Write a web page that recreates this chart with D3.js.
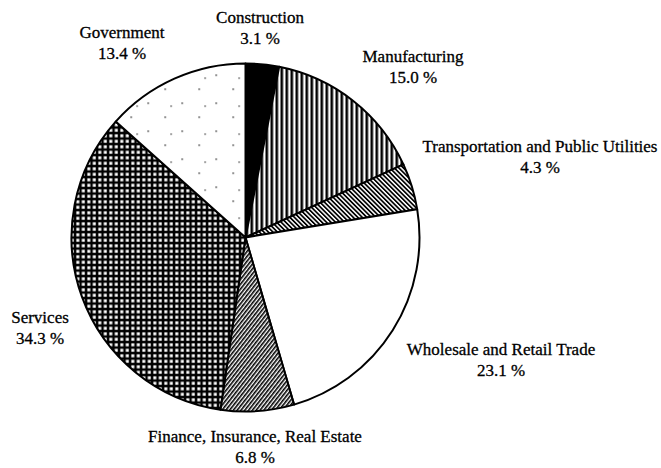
<!DOCTYPE html>
<html>
<head>
<meta charset="utf-8">
<script src="https://cdn.jsdelivr.net/npm/d3@7"></script>
<style>
  body { margin: 0; background: #fff; }
  svg { display: block; }
</style>
</head>
<body>
<div class="svg"></div>
<script>
// Sectors, clockwise from 12 o'clock
var categories = ["Construction", "Manufacturing", "Transportation and Public Utilities",
    "Wholesale and Retail Trade", "Finance, Insurance, Real Estate", "Services", "Government"];
var shares = [3.1, 15.0, 4.3, 23.1, 6.8, 34.3, 13.4];
var fills = ["solid", "vlines", "backhatch", "blank", "hatch", "grid", "dots"];

// Where each label's first line sits (layout only)
var labelAnchors = [[260, 23], [413, 62], [540, 152], [501, 355], [255, 442], [40, 323], [122, 38]];

var width = 661, height = 468;
var cx = 245.5, cy = 237.5, radius = 174;
var lineGap = 21;

var svgContainer = d3.select(".svg").append("svg").attr("width", width).attr("height", height);
var defs = svgContainer.append("defs");

// Fill patterns imitating the printed shading
var p = defs.append("pattern").attr("id", "vlines").attr("patternUnits", "userSpaceOnUse").attr("width", 5).attr("height", 5);
p.append("rect").attr("width", 5).attr("height", 5).attr("fill", "#fff");
p.append("rect").attr("x", 0).attr("width", 2.6).attr("height", 5).attr("fill", "#000");

p = defs.append("pattern").attr("id", "backhatch").attr("patternUnits", "userSpaceOnUse").attr("width", 3.2).attr("height", 4).attr("patternTransform", "rotate(-45)");
p.append("rect").attr("width", 3.2).attr("height", 4).attr("fill", "#fff");
p.append("rect").attr("width", 1.7).attr("height", 4).attr("fill", "#000");

p = defs.append("pattern").attr("id", "hatch").attr("patternUnits", "userSpaceOnUse").attr("width", 3).attr("height", 4).attr("patternTransform", "rotate(38)");
p.append("rect").attr("width", 3).attr("height", 4).attr("fill", "#fff");
p.append("rect").attr("width", 1.6).attr("height", 4).attr("fill", "#000");

p = defs.append("pattern").attr("id", "grid").attr("patternUnits", "userSpaceOnUse").attr("width", 5.5).attr("height", 5.5);
p.append("rect").attr("width", 5.5).attr("height", 5.5).attr("fill", "#000");
p.append("rect").attr("x", 1.3).attr("y", 1.3).attr("width", 3).attr("height", 3).attr("fill", "#fff");

// sparse scattered specks
p = defs.append("pattern").attr("id", "dots").attr("patternUnits", "userSpaceOnUse").attr("width", 34).attr("height", 28);
p.append("rect").attr("width", 34).attr("height", 28).attr("fill", "#fff");
p.append("rect").attr("x", 4).attr("y", 5).attr("width", 1.3).attr("height", 1.3).attr("fill", "#000");
p.append("rect").attr("x", 21).attr("y", 19).attr("width", 1.3).attr("height", 1.3).attr("fill", "#000");
p.append("rect").attr("x", 27).attr("y", 8).attr("width", 1.2).attr("height", 1.2).attr("fill", "#000");

function fillFor(kind) {
    if (kind == "solid") return "#000";
    if (kind == "blank") return "#fff";
    return "url(#" + kind + ")";
}

var pie = d3.pie().sort(null).value(function(d) { return d; });
var arc = d3.arc().innerRadius(0).outerRadius(radius);
var slices = pie(shares);

var g = svgContainer.append("g").attr("transform", "translate(" + cx + "," + cy + ")");
g.selectAll("path").data(slices).enter().append("path")
    .attr("d", arc)
    .attr("fill", function(d, i) { return fillFor(fills[i]); })
    .attr("stroke", "#000")
    .attr("stroke-width", 2)
    .attr("stroke-linejoin", "round");

// Labels: name on the first line, share underneath
var fmt = d3.format(".1f");
var labels = svgContainer.append("g")
    .attr("font-family", "'Liberation Serif', 'Times New Roman', serif")
    .attr("font-size", "17px")
    .attr("fill", "#000")
    .attr("stroke", "#000")
    .attr("stroke-width", 0.3)
    .attr("text-anchor", "middle");

categories.forEach(function(name, i) {
    var a = labelAnchors[i];
    labels.append("text").attr("x", a[0]).attr("y", a[1]).text(name);
    labels.append("text").attr("x", a[0]).attr("y", a[1] + lineGap).text(fmt(shares[i]) + " %");
});
</script>
</body>
</html>
